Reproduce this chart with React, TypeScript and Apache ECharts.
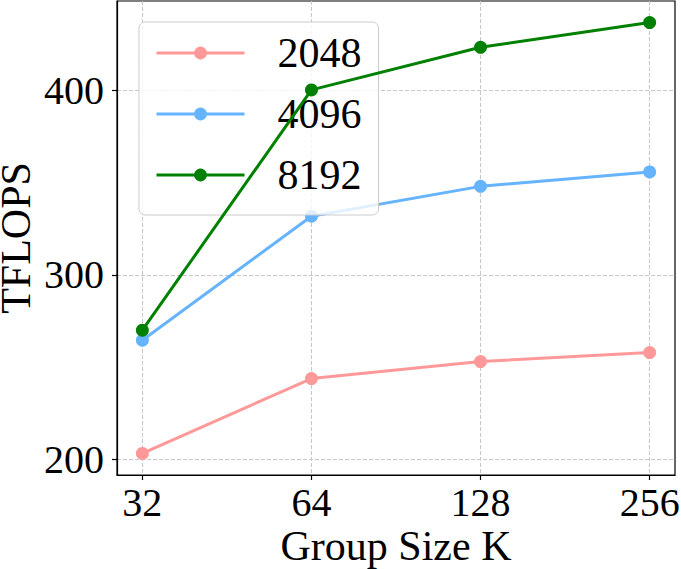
import React, { useEffect, useRef } from "react";
import * as echarts from "echarts";

const groupSizes = [32, 64, 128, 256];
const seriesNames = ["2048", "4096", "8192"];
const tflops2048 = [203.2, 243.8, 253.0, 257.9];
const tflops4096 = [264.6, 331.8, 348.0, 355.8];
const tflops8192 = [270.0, 400.3, 423.4, 436.8];
const yTicks = [200, 300, 400];
const seriesColors = ["#ff9999", "#66b3ff", "#008000"];

const FONT = "'Liberation Serif', 'Times New Roman', serif";

export default function App() {
  const ref = useRef<HTMLDivElement>(null);

  useEffect(() => {
    if (!ref.current) return;
    const chart = echarts.init(ref.current, undefined, { renderer: "svg" });
    const allValues = [tflops2048, tflops4096, tflops8192];
    const pad = Math.pow(2, 0.15);

    const option: any = {
      animation: false,
      backgroundColor: "#ffffff",
      textStyle: { fontFamily: FONT },
      grid: {
        left: 117,
        right: 6,
        top: 1,
        bottom: 94,
        containLabel: false,
        outerBoundsMode: "none",
        show: true,
        borderColor: "#000",
        borderWidth: 1.2,
        backgroundColor: "transparent",
      },
      legend: {
        orient: "vertical",
        left: 139,
        top: 22,
        padding: [10, 17, 19, 16],
        itemWidth: 88,
        itemHeight: 16,
        itemGap: 19,
        backgroundColor: "rgba(255,255,255,0.8)",
        borderColor: "#cccccc",
        borderWidth: 1,
        borderRadius: 6,
        lineStyle: { width: 3 },
        formatter: (name: string) => `{t|${name}}`,
        textStyle: {
          color: "#000",
          fontFamily: FONT,
          fontSize: 42,
          rich: {
            t: {
              fontFamily: FONT,
              fontSize: 42,
              lineHeight: 42,
              color: "#000",
              padding: [0, 0, 0, 28],
            },
          },
        },
        data: seriesNames,
      },
      xAxis: {
        type: "log",
        logBase: 2,
        min: groupSizes[0] / pad,
        max: groupSizes[groupSizes.length - 1] * pad,
        name: "Group Size K",
        nameLocation: "middle",
        nameGap: 50,
        nameMoveOverlap: false,
        nameTextStyle: {
          fontFamily: FONT,
          fontSize: 42,
          lineHeight: 42,
          color: "#000",
        },
        axisLine: { show: true, onZero: false, lineStyle: { color: "#000", width: 1.2 } },
        axisTick: {
          show: true,
          inside: false,
          length: 5,
          customValues: groupSizes,
          lineStyle: { color: "#000", width: 1.2 },
        },
        axisLabel: {
          customValues: groupSizes,
          margin: 7,
          fontFamily: FONT,
          fontSize: 40,
          lineHeight: 40,
          color: "#000",
          formatter: (v: number) => String(Math.round(v)),
        },
        splitLine: {
          show: true,
          lineStyle: { color: "#c8c8c8", width: 1, type: [4, 2] },
        },
        minorTick: { show: false },
        minorSplitLine: { show: false },
      },
      yAxis: {
        type: "value",
        min: 191.5,
        max: 448.5,
        name: "TFLOPS",
        nameLocation: "middle",
        nameRotate: 90,
        nameGap: 86,
        nameMoveOverlap: false,
        nameTextStyle: {
          fontFamily: FONT,
          fontSize: 42,
          lineHeight: 30,
          color: "#000",
        },
        axisLine: { show: true, lineStyle: { color: "#000", width: 1.2 } },
        axisTick: {
          show: true,
          inside: false,
          length: 5,
          customValues: yTicks,
          lineStyle: { color: "#000", width: 1.2 },
        },
        axisLabel: {
          customValues: yTicks,
          margin: 13,
          fontFamily: FONT,
          fontSize: 40,
          lineHeight: 40,
          color: "#000",
        },
        splitLine: {
          show: true,
          lineStyle: { color: "#c8c8c8", width: 1, type: [4, 2] },
        },
      },
      series: seriesNames.map((name, i) => ({
        name,
        type: "line",
        data: groupSizes.map((k, j) => [k, allValues[i][j]]),
        symbol: "circle",
        symbolSize: 13,
        showSymbol: true,
        lineStyle: { color: seriesColors[i], width: 3 },
        itemStyle: { color: seriesColors[i] },
        emphasis: { disabled: true },
        z: 2 + i,
      })),
    };

    chart.setOption(option);
    return () => {
      chart.dispose();
    };
  }, []);

  return (
    <div
      ref={ref}
      style={{ position: "absolute", left: 0, top: 0, width: 681, height: 569 }}
    />
  );
}
